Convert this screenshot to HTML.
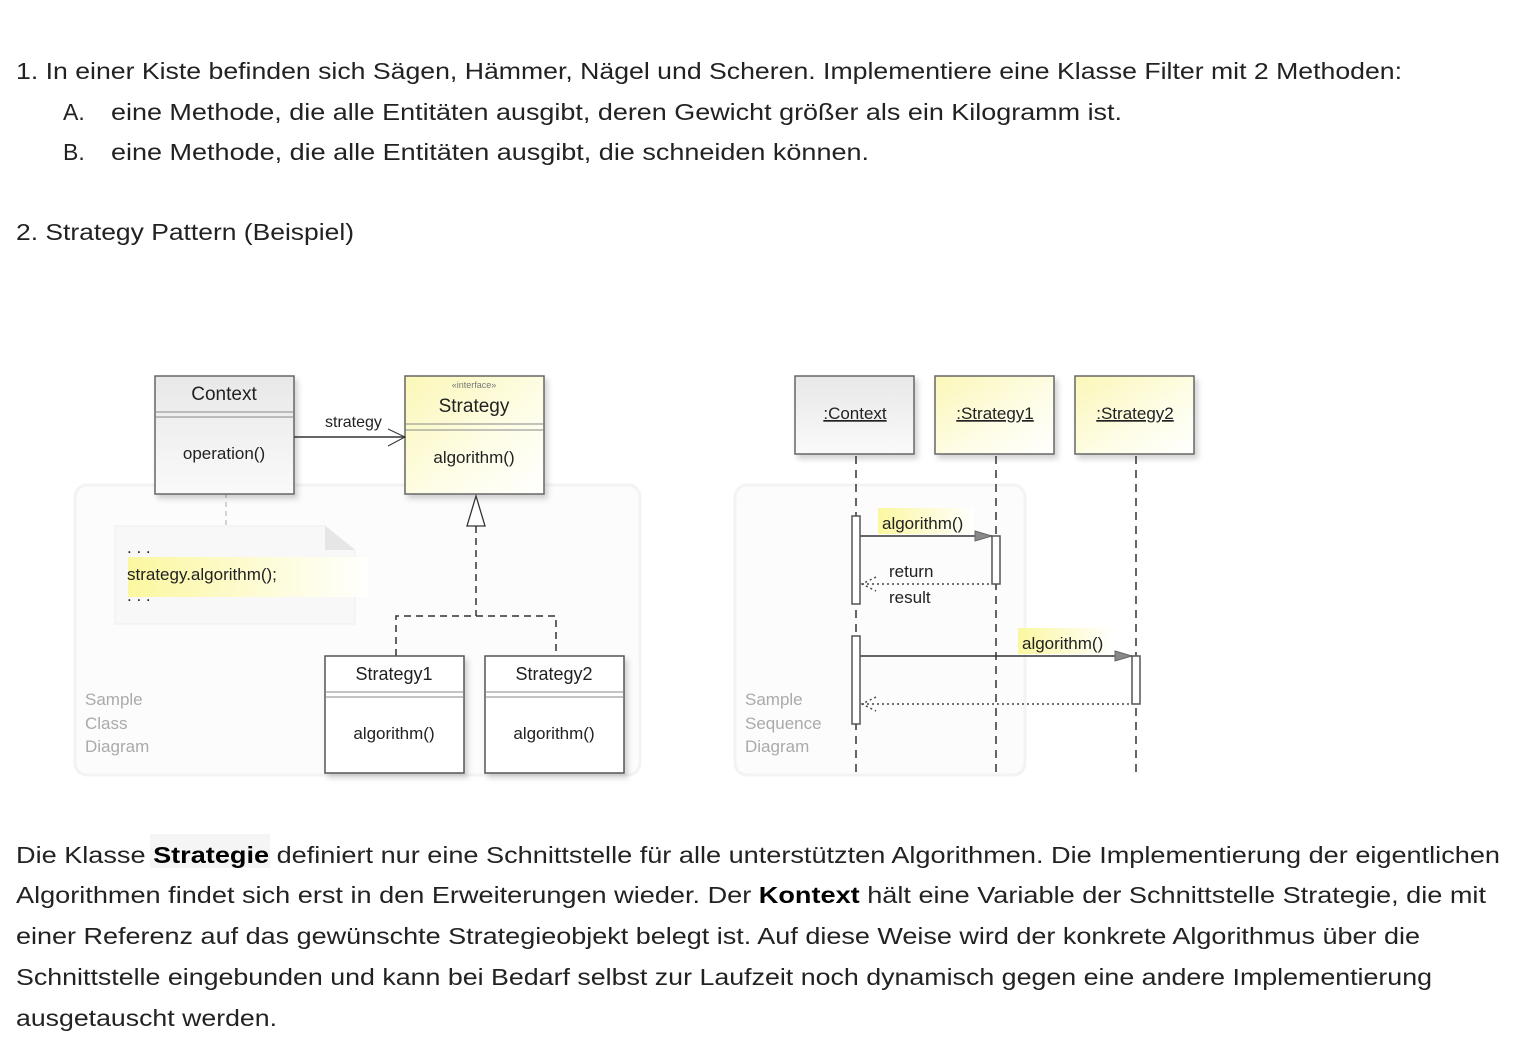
<!DOCTYPE html>
<html><head><meta charset="utf-8"><style>
html,body{margin:0;padding:0;background:#fff;}
svg{display:block;}
.t{font-family:"Liberation Sans",sans-serif;font-size:23px;fill:#222;}
.d{font-family:"Liberation Sans",sans-serif;font-size:17px;fill:#222;}
.s{font-family:"Liberation Sans",sans-serif;font-size:17px;fill:#aaa;}
</style></head><body>
<svg width="1526" height="1056" viewBox="0 0 1526 1056" xmlns="http://www.w3.org/2000/svg">
<defs>
<linearGradient id="gy" x1="0" y1="0" x2="1" y2="1"><stop offset="0" stop-color="#fbf7b8"/><stop offset="0.6" stop-color="#fefde8"/><stop offset="1" stop-color="#ffffff"/></linearGradient>
<linearGradient id="gg" x1="0" y1="0" x2="0" y2="1"><stop offset="0" stop-color="#e8e8e8"/><stop offset="1" stop-color="#fafafa"/></linearGradient>
<linearGradient id="hl" x1="0" y1="0" x2="1" y2="0"><stop offset="0" stop-color="#fbf7a0"/><stop offset="1" stop-color="#ffffff"/></linearGradient>
<filter id="sh" x="-10%" y="-10%" width="130%" height="130%"><feDropShadow dx="3" dy="4" stdDeviation="3" flood-color="#000" flood-opacity="0.18"/></filter>
</defs>

<text class="t" x="16" y="79" textLength="1386" lengthAdjust="spacingAndGlyphs">1. In einer Kiste befinden sich Sägen, Hämmer, Nägel und Scheren. Implementiere eine Klasse Filter mit 2 Methoden:</text>
<text class="t" x="63" y="120">A.</text>
<text class="t" x="111" y="120" textLength="1011" lengthAdjust="spacingAndGlyphs">eine Methode, die alle Entitäten ausgibt, deren Gewicht größer als ein Kilogramm ist.</text>
<text class="t" x="63" y="160">B.</text>
<text class="t" x="111" y="160" textLength="758" lengthAdjust="spacingAndGlyphs">eine Methode, die alle Entitäten ausgibt, die schneiden können.</text>
<text class="t" x="16" y="240" textLength="338" lengthAdjust="spacingAndGlyphs">2. Strategy Pattern (Beispiel)</text>

<!-- class diagram panel -->
<rect x="75" y="485" width="565" height="290" rx="12" fill="#fcfcfc" stroke="#f3f3f3" stroke-width="3"/>
<text class="s" x="85" y="705">Sample</text>
<text class="s" x="85" y="729">Class</text>
<text class="s" x="85" y="752">Diagram</text>

<!-- note -->
<path d="M115 526 H325 L355 550 V624 H115 Z" fill="#f8f8f8" stroke="#eee"/>
<path d="M325 526 V550 H355 Z" fill="#e6e6e6"/>
<rect x="128" y="557" width="240" height="40" fill="url(#hl)"/>
<text class="d" x="127" y="553" fill="#555">. . .</text>
<text class="d" x="127" y="580">strategy.algorithm();</text>
<text class="d" x="127" y="601" fill="#555">. . .</text>
<line x1="226" y1="466" x2="226" y2="526" stroke="#aaa" stroke-dasharray="5,4"/>

<!-- Context -->
<g filter="url(#sh)"><rect x="155" y="376" width="139" height="118" fill="url(#gg)" stroke="#666" stroke-width="1.5"/></g>
<line x1="155" y1="412" x2="294" y2="412" stroke="#888"/><line x1="155" y1="417" x2="294" y2="417" stroke="#888"/>
<text class="d" x="224" y="400" text-anchor="middle" style="font-size:19px">Context</text>
<text class="d" x="224" y="459" text-anchor="middle">operation()</text>

<!-- Strategy -->
<g filter="url(#sh)"><rect x="405" y="376" width="139" height="118" fill="url(#gy)" stroke="#666" stroke-width="1.5"/></g>
<line x1="405" y1="424" x2="544" y2="424" stroke="#888"/><line x1="405" y1="430" x2="544" y2="430" stroke="#888"/>
<text class="d" x="474" y="388" text-anchor="middle" style="font-size:9px;fill:#777">«interface»</text>
<text class="d" x="474" y="412" text-anchor="middle" style="font-size:19px">Strategy</text>
<text class="d" x="474" y="463" text-anchor="middle">algorithm()</text>

<line x1="294" y1="437" x2="405" y2="437" stroke="#333" stroke-width="1.5"/>
<path d="M388 429 L405 437 L388 446" fill="none" stroke="#333"/>
<text class="d" x="325" y="427" style="font-size:16px">strategy</text>

<path d="M476 496 L467 526 H485 Z" fill="#fff" stroke="#333" stroke-width="1.3"/>
<path d="M476 526 V616 M396 656 V616 H556 V656" fill="none" stroke="#333" stroke-width="1.5" stroke-dasharray="7,5"/>

<g filter="url(#sh)"><rect x="325" y="656" width="139" height="117" fill="#fff" stroke="#555" stroke-width="1.5"/></g>
<line x1="325" y1="692" x2="464" y2="692" stroke="#888"/><line x1="325" y1="697" x2="464" y2="697" stroke="#888"/>
<text class="d" x="394" y="680" text-anchor="middle" style="font-size:18px">Strategy1</text>
<text class="d" x="394" y="739" text-anchor="middle">algorithm()</text>
<g filter="url(#sh)"><rect x="485" y="656" width="139" height="117" fill="#fff" stroke="#555" stroke-width="1.5"/></g>
<line x1="485" y1="692" x2="624" y2="692" stroke="#888"/><line x1="485" y1="697" x2="624" y2="697" stroke="#888"/>
<text class="d" x="554" y="680" text-anchor="middle" style="font-size:18px">Strategy2</text>
<text class="d" x="554" y="739" text-anchor="middle">algorithm()</text>

<!-- sequence panel -->
<rect x="735" y="485" width="290" height="290" rx="12" fill="#fcfcfc" stroke="#f3f3f3" stroke-width="3"/>
<text class="s" x="745" y="705">Sample</text>
<text class="s" x="745" y="729">Sequence</text>
<text class="s" x="745" y="752">Diagram</text>

<g filter="url(#sh)">
<rect x="795" y="376" width="119" height="78" fill="url(#gg)" stroke="#666" stroke-width="1.5"/>
<rect x="935" y="376" width="119" height="78" fill="url(#gy)" stroke="#666" stroke-width="1.5"/>
<rect x="1075" y="376" width="119" height="78" fill="url(#gy)" stroke="#666" stroke-width="1.5"/>
</g>
<text class="d" x="855" y="419" text-anchor="middle" text-decoration="underline">:Context</text>
<text class="d" x="995" y="419" text-anchor="middle" text-decoration="underline">:Strategy1</text>
<text class="d" x="1135" y="419" text-anchor="middle" text-decoration="underline">:Strategy2</text>

<g stroke="#333" stroke-width="1.5" stroke-dasharray="8,6">
<line x1="856" y1="456" x2="856" y2="773"/><line x1="996" y1="456" x2="996" y2="773"/><line x1="1136" y1="456" x2="1136" y2="773"/>
</g>
<rect x="878" y="508" width="96" height="26" fill="url(#hl)"/>
<rect x="1018" y="628" width="96" height="26" fill="url(#hl)"/>
<text class="d" x="882" y="529">algorithm()</text>
<text class="d" x="1022" y="649">algorithm()</text>
<line x1="860" y1="536" x2="992" y2="536" stroke="#333" stroke-width="1.5"/>
<path d="M975 531 L992 536 L975 541 Z" fill="#888" stroke="#666"/>
<line x1="860" y1="656" x2="1132" y2="656" stroke="#333" stroke-width="1.5"/>
<path d="M1115 651 L1132 656 L1115 661 Z" fill="#888" stroke="#666"/>
<g stroke="#444" stroke-width="1.5" stroke-dasharray="2,3" fill="none">
<line x1="862" y1="584" x2="992" y2="584"/><path d="M876 577 L862 584 L876 591"/>
<line x1="862" y1="704" x2="1132" y2="704"/><path d="M876 697 L862 704 L876 711"/>
</g>
<text class="d" x="889" y="577">return</text>
<text class="d" x="889" y="603">result</text>
<g fill="#fff" stroke="#555" stroke-width="1.5">
<rect x="852" y="516" width="8" height="88"/><rect x="852" y="636" width="8" height="88"/>
<rect x="992" y="536" width="8" height="48"/><rect x="1132" y="656" width="8" height="48"/>
</g>

<rect x="150" y="834" width="120" height="34" fill="#f5f5f5"/>
<text class="t" x="16" y="863" textLength="1484" lengthAdjust="spacingAndGlyphs">Die Klasse <tspan font-weight="bold" fill="#000">Strategie</tspan> definiert nur eine Schnittstelle für alle unterstützten Algorithmen. Die Implementierung der eigentlichen</text>
<text class="t" x="16" y="903" textLength="1470" lengthAdjust="spacingAndGlyphs">Algorithmen findet sich erst in den Erweiterungen wieder. Der <tspan font-weight="bold" fill="#000">Kontext</tspan> hält eine Variable der Schnittstelle Strategie, die mit</text>
<text class="t" x="16" y="944" textLength="1404" lengthAdjust="spacingAndGlyphs">einer Referenz auf das gewünschte Strategieobjekt belegt ist. Auf diese Weise wird der konkrete Algorithmus über die</text>
<text class="t" x="16" y="985" textLength="1416" lengthAdjust="spacingAndGlyphs">Schnittstelle eingebunden und kann bei Bedarf selbst zur Laufzeit noch dynamisch gegen eine andere Implementierung</text>
<text class="t" x="16" y="1026" textLength="261" lengthAdjust="spacingAndGlyphs">ausgetauscht werden.</text>
</svg>
</body></html>
